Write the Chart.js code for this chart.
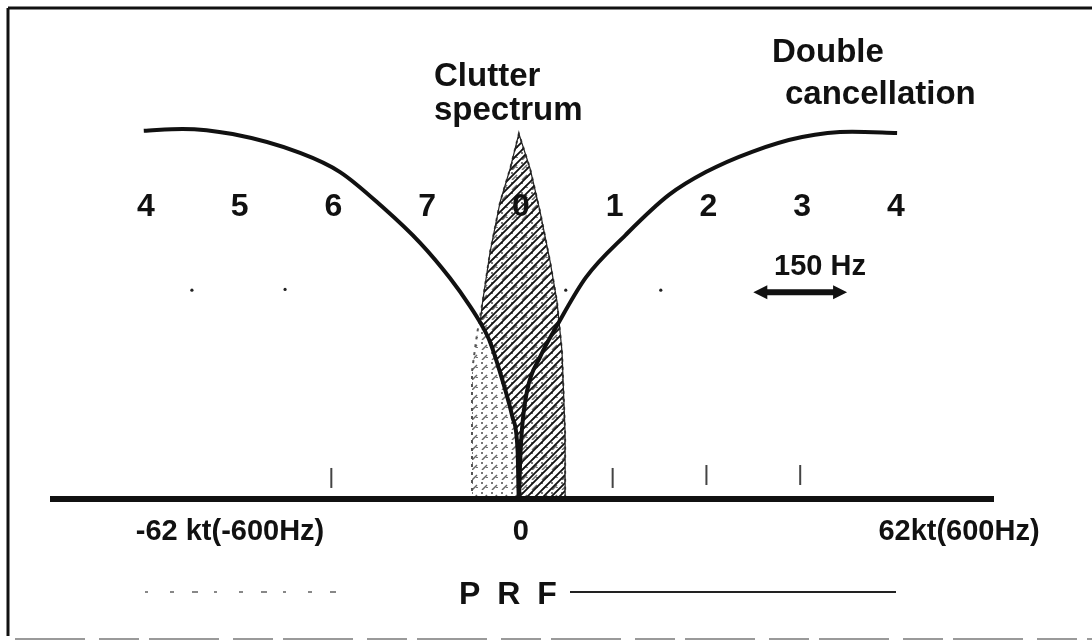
<!DOCTYPE html>
<html>
<head>
<meta charset="utf-8">
<script src="https://cdn.jsdelivr.net/npm/chart.js@4.4.0/dist/chart.umd.min.js"></script>
<style>
  html, body { margin: 0; padding: 0; background: #fff; }
  #marco { width: 1092px; height: 642px; }
</style>
</head>
<body>
<div id="marco"><canvas id="grafica" width="1092" height="642"></canvas></div>
<script>
// Double cancellation response (Hz, relative level 0..1)
const curvaHz = [-600, -538, -458, -350, -286, -218, -158, -110, -78, -59, -46, -26, -10, -2, 0, 2, 5, 13, 34, 61, 107, 171, 240, 299, 373, 453, 533, 605];
const curvaNivel = [0.998, 1.003, 0.989, 0.938, 0.886, 0.791, 0.694, 0.598, 0.522, 0.47, 0.425, 0.32, 0.22, 0.13, 0, 0.1, 0.19, 0.292, 0.385, 0.47, 0.6, 0.716, 0.824, 0.886, 0.941, 0.981, 0.995, 0.992];

// Clutter spectrum, whole outline (light part)
const clutterHz = [-75, -75, -67, -58, -46, -30, -14, 0, 18, 34, 50, 61, 69, 74, 74];
const clutterNivel = [0, 0.346, 0.446, 0.535, 0.67, 0.805, 0.895, 0.99, 0.895, 0.778, 0.643, 0.535, 0.4, 0.176, 0];

// dark hatched part: upper and lower edge
const rayadoArribaHz = [-62, -58, -46, -30, -14, 0, 18, 34, 50, 61, 69, 74, 74];
const rayadoArribaNivel = [0.477, 0.535, 0.67, 0.805, 0.895, 0.99, 0.895, 0.778, 0.643, 0.535, 0.4, 0.176, 0];
const rayadoAbajoHz = [-62, -59, -46, -26, -10, -2, 0, 74];
const rayadoAbajoNivel = [0.477, 0.47, 0.425, 0.32, 0.22, 0.13, 0, 0];

// small marks above the axis and loose specks
const marcasHz = [-300, 150, 300, 450];
const marcasNivel = [0.057, 0.057, 0.065, 0.065];
const puntosHz = [-523, -374, 75, 227];
const puntosNivel = [0.566, 0.568, 0.566, 0.566];

// filter numbers along the top
const numerosHz = [-600, -450, -300, -150, 0, 150, 300, 450, 600];
const numeros = ['4', '5', '6', '7', '0', '1', '2', '3', '4'];

// 150 Hz arrow
const flechaHz = [375, 525];
const flechaNivel = 0.56;

const ejeHz = [-750, 760];

function pares(xs, ys) {
  return xs.map((x, i) => ({ x: x, y: ys[i] }));
}

function rayado(color, paso, ancho) {
  const c = document.createElement('canvas');
  c.width = paso; c.height = paso;
  const g = c.getContext('2d');
  g.strokeStyle = color;
  g.lineWidth = ancho;
  g.beginPath();
  g.moveTo(0, paso); g.lineTo(paso, 0);
  g.moveTo(-2, 2); g.lineTo(2, -2);
  g.moveTo(paso - 2, paso + 2); g.lineTo(paso + 2, paso - 2);
  g.stroke();
  return g.createPattern(c, 'repeat');
}

function punteado() {
  const c = document.createElement('canvas');
  c.width = 10; c.height = 10;
  const g = c.getContext('2d');
  g.fillStyle = '#777';
  g.fillRect(1, 2, 2, 2);
  g.fillRect(6, 7, 2, 1);
  g.strokeStyle = '#666';
  g.lineWidth = 1.5;
  g.beginPath();
  g.moveTo(2, 10); g.lineTo(7, 5);
  g.stroke();
  return g.createPattern(c, 'repeat');
}

// frame, texts and arrow
const dibujos = {
  id: 'dibujos',
  beforeDraw(chart) {
    const ctx = chart.ctx;
    ctx.save();
    ctx.fillStyle = '#fff';
    ctx.fillRect(0, 0, chart.width, chart.height);
    ctx.strokeStyle = '#111';
    ctx.lineWidth = 3;
    ctx.beginPath();
    ctx.moveTo(8, 8); ctx.lineTo(1092, 8);
    ctx.moveTo(8, 8); ctx.lineTo(8, 636);
    ctx.stroke();
    ctx.strokeStyle = '#9a9a9a';
    ctx.lineWidth = 2;
    ctx.setLineDash([70, 14, 40, 10]);
    ctx.beginPath();
    ctx.moveTo(15, 639); ctx.lineTo(1092, 639);
    ctx.stroke();
    ctx.restore();
  },
  afterDatasetsDraw(chart) {
    const ctx = chart.ctx;
    const xs = chart.scales.x;
    const ys = chart.scales.y;
    ctx.save();
    ctx.fillStyle = '#111';
    ctx.textBaseline = 'alphabetic';

    ctx.font = 'bold 33px "Liberation Sans", Arial, sans-serif';
    ctx.textAlign = 'left';
    ctx.fillText('Clutter', 434, 86);
    ctx.fillText('spectrum', 434, 120);
    ctx.fillText('Double', 772, 62);
    ctx.fillText('cancellation', 785, 104);

    ctx.font = 'bold 32px "Liberation Sans", Arial, sans-serif';
    ctx.textAlign = 'center';
    numerosHz.forEach((f, i) => {
      ctx.fillText(numeros[i], xs.getPixelForValue(f) + 2, 216);
    });

    ctx.font = 'bold 29px "Liberation Sans", Arial, sans-serif';
    ctx.fillText('150 Hz', 820, 275);

    ctx.fillText('-62 kt(-600Hz)', 230, 540);
    ctx.fillText('0', xs.getPixelForValue(0) + 2, 540);
    ctx.fillText('62kt(600Hz)', 959, 540);

    // PRF line
    ctx.font = 'bold 32px "Liberation Sans", Arial, sans-serif';
    ctx.letterSpacing = '4px';
    ctx.fillText('P R F', 510, 604);
    ctx.letterSpacing = '0px';
    ctx.strokeStyle = '#888';
    ctx.lineWidth = 2;
    ctx.setLineDash([3, 22, 4, 18, 6, 16]);
    ctx.beginPath();
    ctx.moveTo(145, 592); ctx.lineTo(350, 592);
    ctx.stroke();
    ctx.setLineDash([]);
    ctx.strokeStyle = '#222';
    ctx.beginPath();
    ctx.moveTo(570, 592); ctx.lineTo(896, 592);
    ctx.stroke();

    // 150 Hz arrow
    const x1 = xs.getPixelForValue(flechaHz[0]);
    const x2 = xs.getPixelForValue(flechaHz[1]);
    const y = ys.getPixelForValue(flechaNivel);
    ctx.strokeStyle = '#111';
    ctx.lineWidth = 6;
    ctx.beginPath();
    ctx.moveTo(x1 + 8, y); ctx.lineTo(x2 - 8, y);
    ctx.stroke();
    ctx.beginPath();
    ctx.moveTo(x1, y); ctx.lineTo(x1 + 14, y - 7); ctx.lineTo(x1 + 14, y + 7); ctx.closePath();
    ctx.moveTo(x2, y); ctx.lineTo(x2 - 14, y - 7); ctx.lineTo(x2 - 14, y + 7); ctx.closePath();
    ctx.fill();
    ctx.restore();
  }
};

new Chart(document.getElementById('grafica'), {
  type: 'line',
  data: {
    datasets: [
      {
        label: 'Double cancellation',
        data: pares(curvaHz, curvaNivel),
        borderColor: '#111',
        borderWidth: 4,
        pointRadius: 0,
        cubicInterpolationMode: 'monotone',
        fill: false,
        clip: false,
        order: 0
      },
      {
        label: 'axis',
        data: pares(ejeHz, [0, 0]),
        borderColor: '#111',
        borderWidth: 6,
        pointRadius: 0,
        fill: false,
        clip: false,
        order: 1
      },
      {
        label: 'marks',
        data: pares(marcasHz, marcasNivel),
        showLine: false,
        pointStyle: 'line',
        rotation: 90,
        pointRadius: 10,
        pointBorderWidth: 2,
        pointBorderColor: '#444',
        order: 2
      },
      {
        label: 'specks',
        data: pares(puntosHz, puntosNivel),
        showLine: false,
        pointRadius: 1.6,
        pointBackgroundColor: '#222',
        pointBorderWidth: 0,
        order: 2
      },
      {
        label: 'Clutter hatched',
        data: pares(rayadoArribaHz, rayadoArribaNivel),
        borderColor: '#222',
        borderWidth: 1.2,
        pointRadius: 0,
        tension: 0,
        backgroundColor: rayado('#111', 8, 1.8),
        fill: '+1',
        clip: false,
        order: 3
      },
      {
        label: 'Clutter hatched base',
        data: pares(rayadoAbajoHz, rayadoAbajoNivel),
        borderWidth: 0,
        pointRadius: 0,
        tension: 0,
        fill: false,
        clip: false,
        order: 4
      },
      {
        label: 'Clutter spectrum',
        data: pares(clutterHz, clutterNivel),
        borderColor: '#555',
        borderWidth: 2,
        borderDash: [3, 5],
        pointRadius: 0,
        tension: 0,
        backgroundColor: punteado(),
        fill: 'origin',
        clip: false,
        order: 5
      }
    ]
  },
  options: {
    responsive: false,
    animation: false,
    devicePixelRatio: 1,
    layout: { padding: { left: 50, right: 98, top: 99, bottom: 143 } },
    scales: {
      x: { type: 'linear', min: ejeHz[0], max: ejeHz[1], display: false },
      y: { min: 0, max: 1.084, display: false }
    },
    plugins: {
      legend: { display: false },
      tooltip: { enabled: false }
    }
  },
  plugins: [dibujos]
});
</script>
</body>
</html>
